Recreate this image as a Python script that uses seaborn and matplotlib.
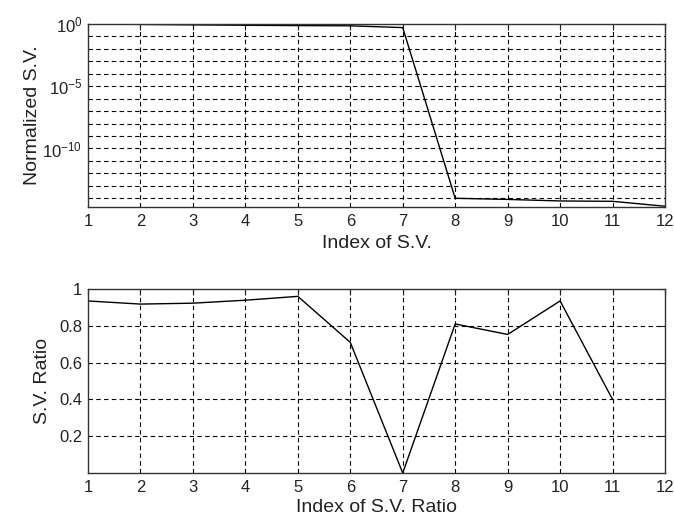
import numpy as np
import pandas as pd
import matplotlib
matplotlib.use("Agg")
import matplotlib.pyplot as plt
import seaborn as sns

# Normalized singular values (log scale) and ratios of consecutive singular values
sv_index = [1, 2, 3, 4, 5, 6, 7, 8, 9, 10, 11, 12]
sv_values = [1.0, 0.93, 0.855, 0.79, 0.745, 0.715, 0.515,
             1.0e-14, 8.1e-15, 6.1e-15, 5.7e-15, 2.3e-15]

ratio_index = [1, 2, 3, 4, 5, 6, 7, 8, 9, 10, 11]
ratio_values = [0.935, 0.918, 0.923, 0.939, 0.96, 0.71, 0.0, 0.81, 0.753, 0.935, 0.40]

x_ticks = list(range(1, 13))
top_yticks = [1e-10, 1e-5, 1e0]
top_ylabels = [r"$10^{-10}$", r"$10^{-5}$", r"$10^{0}$"]
bottom_yticks = [0.2, 0.4, 0.6, 0.8, 1.0]
bottom_ylabels = ["0.2", "0.4", "0.6", "0.8", "1"]

sns.set_style("white")
plt.rcParams["font.family"] = ["Liberation Sans", "DejaVu Sans"]
plt.rcParams["mathtext.fontset"] = "custom"
plt.rcParams["mathtext.rm"] = "Liberation Sans"
plt.rcParams["mathtext.it"] = "Liberation Sans"

W, H = 674, 526
fig = plt.figure(figsize=(W / 100, H / 100), dpi=100)
fig.patch.set_facecolor("white")

def axes_px(left, top, right, bottom):
    return fig.add_axes([left / W, 1 - bottom / H, (right - left) / W, (bottom - top) / H])

ax1 = axes_px(88, 24, 665, 207)
ax2 = axes_px(88, 289, 665, 473)

grid_kw = dict(color="black", linestyle=(0, (4, 3)), linewidth=0.8)

def style_axes(ax):
    for s in ax.spines.values():
        s.set_color("#333333")
        s.set_linewidth(1.0)
    ax.tick_params(direction="in", length=4, width=0.8, colors="#222222",
                   labelsize=12, pad=5, top=True, right=True)
    ax.tick_params(axis="y", labelleft=True, labelright=False, pad=4)
    ax.tick_params(axis="x", labelbottom=True, labeltop=False)

# Top panel: normalized singular values
df1 = pd.DataFrame({"idx": sv_index, "sv": sv_values})
sns.lineplot(data=df1, x="idx", y="sv", ax=ax1, color="black", linewidth=1.0)
ax1.set_yscale("log")
ax1.set_xlim(1, 12)
ax1.set_ylim(10 ** -14.7, 1.0)
ax1.set_xticks(x_ticks)
ax1.set_xticklabels([str(v) for v in x_ticks])
ax1.set_yticks(top_yticks)
ax1.set_yticklabels(top_ylabels)
ax1.yaxis.set_minor_locator(matplotlib.ticker.NullLocator())
for v in x_ticks[1:-1]:
    ax1.axvline(v, zorder=0, **grid_kw)
for e in range(-14, 0):
    ax1.axhline(10.0 ** e, zorder=0, **grid_kw)
style_axes(ax1)
ax1.set_xlabel("Index of S.V.", fontsize=14, color="#222222", labelpad=4)
ax1.set_ylabel("Normalized S.V.", fontsize=14, color="#222222", labelpad=1)

# Bottom panel: ratio of consecutive singular values
df2 = pd.DataFrame({"idx": ratio_index, "ratio": ratio_values})
sns.lineplot(data=df2, x="idx", y="ratio", ax=ax2, color="black", linewidth=1.0)
ax2.set_xlim(1, 12)
ax2.set_ylim(0, 1)
ax2.set_xticks(x_ticks)
ax2.set_xticklabels([str(v) for v in x_ticks])
ax2.set_yticks(bottom_yticks)
ax2.set_yticklabels(bottom_ylabels)
for v in x_ticks[1:-1]:
    ax2.axvline(v, zorder=0, **grid_kw)
for v in bottom_yticks[:-1]:
    ax2.axhline(v, zorder=0, **grid_kw)
style_axes(ax2)
ax2.set_xlabel("Index of S.V. Ratio", fontsize=14, color="#222222", labelpad=3)
ax2.set_ylabel("S.V. Ratio", fontsize=14, color="#222222", labelpad=6)

fig.savefig("out.png", dpi=100, facecolor="white")
